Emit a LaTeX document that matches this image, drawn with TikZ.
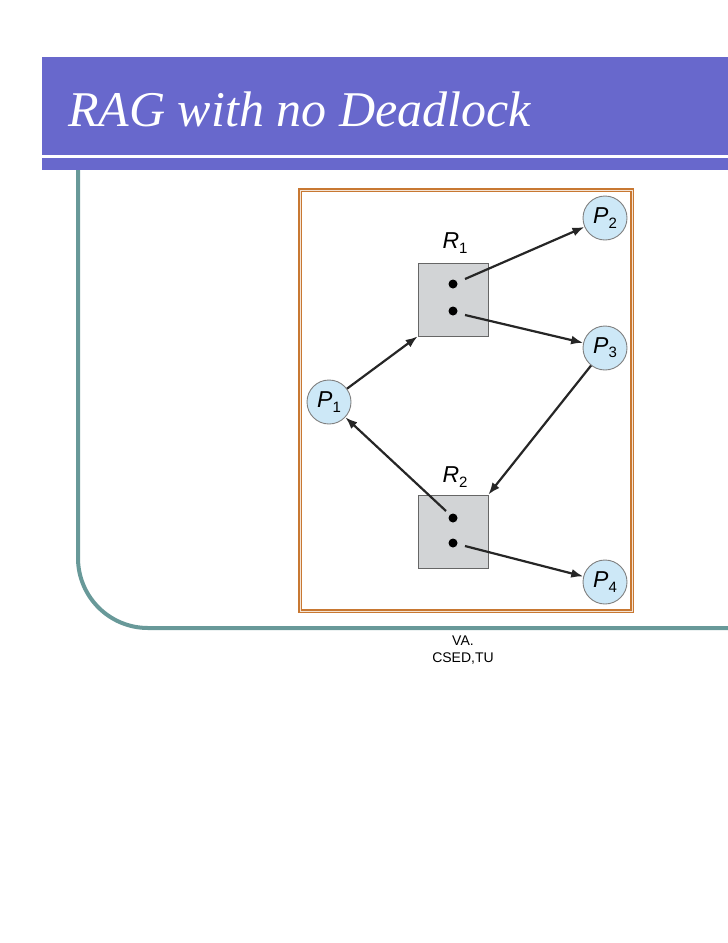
\documentclass[tikz,border=0pt]{standalone}
\usepackage{fontspec}
\setmainfont{Liberation Serif}
\newfontfamily\arialfont{Liberation Sans}
\usetikzlibrary{arrows.meta,calc}
\definecolor{bandblue}{RGB}{104,104,204}
\definecolor{tealline}{RGB}{104,153,153}
\definecolor{framebrown}{RGB}{200,120,50}
\definecolor{procfill}{RGB}{205,232,247}
\definecolor{resfill}{RGB}{210,212,214}

\begin{document}
\begin{tikzpicture}[x=1pt,y=-1pt,
    proc/.style={circle,draw=black!50,line width=0.9pt,fill=procfill,minimum size=44pt,inner sep=0pt,font=\arialfont\itshape\fontsize{23}{23}\selectfont},
    res/.style={draw=black!60,line width=0.8pt,fill=resfill,minimum width=70pt,minimum height=73pt,inner sep=0pt},
    tok/.style={circle,fill=black,minimum size=9pt,inner sep=0pt},
    edge/.style={-{Latex[length=12pt,width=9pt]},line width=2.2pt,black!85}]
                    \useasboundingbox (0,0) rectangle (728,943);
                    % header band
                    \fill[bandblue] (42,57) rectangle (728,155);
                    \fill[bandblue] (42,158) rectangle (728,170);
                    \node[anchor=base west,text=white,font=\itshape\fontsize{50}{50}\selectfont,inner sep=0pt] (title) at (68,126) {RAG with no Deadlock};
                    % teal frame line
                    \draw[tealline,line width=4pt,rounded corners=70pt] (78,170) -- (78,628) -- (728,628);
                    % picture frame
                    \draw[framebrown,line width=3.2pt] (300,190) rectangle (632,611);
                    \draw[white!80!framebrown,line width=1pt] (300,190) rectangle (632,611);
                    % resources
                    \node[res] (r1) at (453,299.5) {};
                    \node[res] (r2) at (453,531.5) {};
                    \node[font=\arialfont\itshape\fontsize{23}{23}\selectfont] (r1lab) at (455,243) {R\raisebox{-0.35ex}{\fontsize{15}{15}\selectfont\upshape 1}};
                    \node[font=\arialfont\itshape\fontsize{23}{23}\selectfont] (r2lab) at (455,477) {R\raisebox{-0.35ex}{\fontsize{15}{15}\selectfont\upshape 2}};
                    \node[tok] (a1) at (453,284) {};
                    \node[tok] (a2) at (453,311) {};
                    \node[tok] (b1) at (453,518) {};
                    \node[tok] (b2) at (453,543) {};
                    % processes
                    \foreach \n/\x/\y in {1/329/402,2/605/218,3/605/348,4/605/582}{
                    \node[proc] (p\n) at (\x,\y) {P\raisebox{-0.35ex}{\fontsize{15}{15}\selectfont\upshape\n}};
                    }
                    % edges
                    \coordinate (a1s) at ($(a1)+(12,-5)$);
                    \coordinate (a2s) at ($(a2)+(12,4)$);
                    \coordinate (b1s) at ($(b1)+(-7,-7)$);
                    \coordinate (b2s) at ($(b2)+(12,3)$);
                    \draw[edge] (p1) -- (r1.south west);
                    \draw[edge] (a1s) -- (p2);
                    \draw[edge] (a2s) -- (p3);
                    \draw[edge] (p3) -- (r2.north east);
                    \draw[edge] (b1s) -- (p1);
                    \draw[edge] (b2s) -- (p4);
                    % footer
                    \node[font=\arialfont\fontsize{14}{17}\selectfont,align=center] (foot) at (463,650) {VA.\\CSED,TU};
                    \end{tikzpicture}
\end{document}
